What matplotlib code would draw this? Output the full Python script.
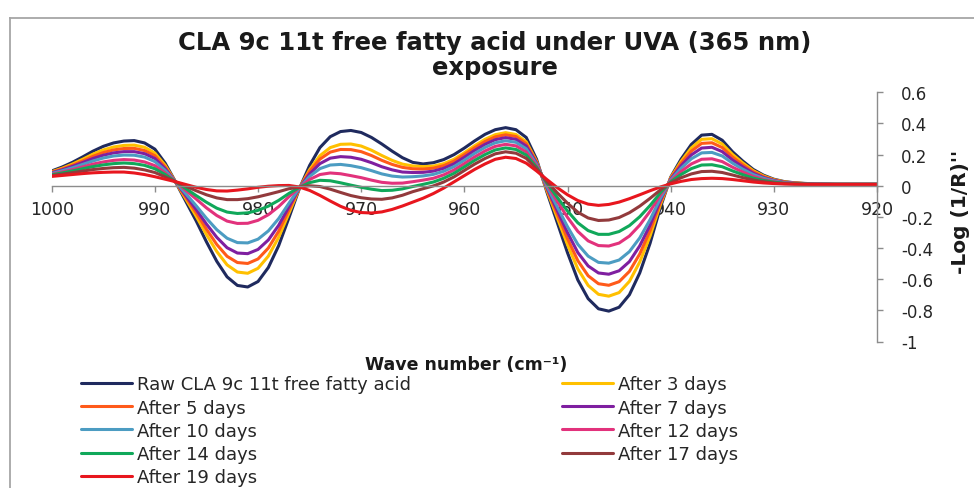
import matplotlib
matplotlib.use("Agg")
import matplotlib.pyplot as plt
from matplotlib.lines import Line2D

plt.rcParams['font.family'] = ['DejaVu Sans']
plt.rcParams['axes.unicode_minus'] = False

# ---------------- data ----------------
wavenumbers = list(range(1000, 919, -1))  # 1000 ... 920

raw = [0.095, 0.120, 0.150, 0.185, 0.222, 0.253, 0.275, 0.287, 0.290, 0.275,
       0.235, 0.145, 0.025, -0.100, -0.225, -0.360, -0.485, -0.585, -0.640, -0.650,
       -0.615, -0.525, -0.385, -0.205, -0.020, 0.130, 0.245, 0.315, 0.348, 0.355,
       0.342, 0.310, 0.268, 0.222, 0.180, 0.150, 0.140, 0.148, 0.168, 0.200,
       0.242, 0.288, 0.330, 0.360, 0.373, 0.360, 0.310, 0.170, -0.040, -0.235,
       -0.430, -0.605, -0.725, -0.790, -0.805, -0.780, -0.700, -0.560, -0.370, -0.140,
       0.055, 0.170, 0.265, 0.325, 0.330, 0.292, 0.218, 0.158, 0.105, 0.068,
       0.042, 0.027, 0.019, 0.015, 0.012, 0.011, 0.010, 0.010, 0.010, 0.010, 0.010]

day3 = [0.090, 0.112, 0.139, 0.170, 0.203, 0.230, 0.249, 0.259, 0.261, 0.247,
        0.210, 0.131, 0.025, -0.085, -0.195, -0.313, -0.422, -0.508, -0.554, -0.562,
        -0.530, -0.452, -0.331, -0.176, -0.018, 0.103, 0.193, 0.245, 0.266, 0.268,
        0.255, 0.228, 0.194, 0.163, 0.139, 0.127, 0.123, 0.126, 0.142, 0.170,
        0.212, 0.257, 0.298, 0.328, 0.341, 0.329, 0.282, 0.157, -0.029, -0.204,
        -0.378, -0.534, -0.640, -0.697, -0.709, -0.686, -0.614, -0.490, -0.323, -0.122,
        0.051, 0.156, 0.243, 0.298, 0.302, 0.268, 0.201, 0.146, 0.097, 0.063,
        0.039, 0.025, 0.018, 0.014, 0.012, 0.010, 0.009, 0.009, 0.009, 0.009, 0.009]

day5 = [0.087, 0.107, 0.131, 0.159, 0.189, 0.213, 0.230, 0.239, 0.240, 0.226,
        0.193, 0.120, 0.025, -0.074, -0.173, -0.279, -0.377, -0.453, -0.493, -0.499,
        -0.470, -0.400, -0.292, -0.155, -0.017, 0.092, 0.171, 0.216, 0.233, 0.232,
        0.219, 0.194, 0.163, 0.137, 0.118, 0.109, 0.107, 0.113, 0.129, 0.158,
        0.200, 0.244, 0.284, 0.314, 0.327, 0.316, 0.270, 0.152, -0.021, -0.181,
        -0.340, -0.481, -0.578, -0.629, -0.639, -0.616, -0.550, -0.438, -0.288, -0.108,
        0.047, 0.143, 0.222, 0.272, 0.276, 0.245, 0.184, 0.134, 0.090, 0.058,
        0.037, 0.024, 0.017, 0.014, 0.011, 0.010, 0.009, 0.009, 0.009, 0.009, 0.009]

day7 = [0.083, 0.102, 0.124, 0.149, 0.175, 0.196, 0.211, 0.219, 0.219, 0.206,
        0.175, 0.110, 0.025, -0.063, -0.152, -0.246, -0.331, -0.398, -0.432, -0.436,
        -0.409, -0.348, -0.254, -0.135, -0.016, 0.076, 0.142, 0.177, 0.187, 0.183,
        0.170, 0.148, 0.122, 0.102, 0.088, 0.085, 0.086, 0.094, 0.112, 0.141,
        0.183, 0.227, 0.266, 0.296, 0.309, 0.298, 0.255, 0.145, -0.012, -0.158,
        -0.301, -0.429, -0.515, -0.560, -0.568, -0.546, -0.487, -0.386, -0.253, -0.094,
        0.042, 0.128, 0.198, 0.242, 0.247, 0.219, 0.165, 0.121, 0.081, 0.053,
        0.034, 0.022, 0.016, 0.013, 0.011, 0.010, 0.009, 0.009, 0.009, 0.009, 0.009]

day10 = [0.079, 0.096, 0.115, 0.137, 0.159, 0.178, 0.191, 0.197, 0.196, 0.184,
         0.155, 0.099, 0.025, -0.051, -0.128, -0.209, -0.282, -0.337, -0.365, -0.367,
         -0.343, -0.290, -0.211, -0.112, -0.015, 0.060, 0.110, 0.133, 0.137, 0.129,
         0.116, 0.097, 0.076, 0.062, 0.056, 0.058, 0.063, 0.073, 0.093, 0.123,
         0.164, 0.208, 0.246, 0.276, 0.289, 0.279, 0.237, 0.137, -0.004, -0.135,
         -0.263, -0.376, -0.452, -0.492, -0.497, -0.477, -0.423, -0.335, -0.218, -0.081,
         0.037, 0.112, 0.173, 0.211, 0.214, 0.191, 0.145, 0.106, 0.072, 0.048,
         0.031, 0.020, 0.015, 0.013, 0.010, 0.010, 0.009, 0.009, 0.009, 0.009, 0.009]

day12 = [0.074, 0.088, 0.103, 0.121, 0.139, 0.153, 0.163, 0.168, 0.165, 0.153,
         0.129, 0.083, 0.026, -0.030, -0.085, -0.142, -0.191, -0.227, -0.242, -0.241,
         -0.222, -0.186, -0.134, -0.070, -0.012, 0.040, 0.072, 0.082, 0.077, 0.065,
         0.052, 0.036, 0.022, 0.016, 0.017, 0.026, 0.036, 0.048, 0.070, 0.101,
         0.142, 0.185, 0.223, 0.253, 0.266, 0.256, 0.217, 0.128, 0.009, -0.099,
         -0.203, -0.293, -0.354, -0.384, -0.387, -0.368, -0.323, -0.253, -0.164, -0.059,
         0.031, 0.091, 0.140, 0.170, 0.173, 0.155, 0.119, 0.088, 0.060, 0.040,
         0.026, 0.018, 0.014, 0.012, 0.010, 0.009, 0.009, 0.009, 0.009, 0.009, 0.009]

day14 = [0.070, 0.082, 0.095, 0.109, 0.123, 0.134, 0.142, 0.146, 0.142, 0.131,
         0.109, 0.072, 0.026, -0.018, -0.063, -0.106, -0.144, -0.169, -0.178, -0.174,
         -0.158, -0.131, -0.094, -0.049, -0.011, 0.020, 0.035, 0.032, 0.019, 0.004,
         -0.010, -0.022, -0.031, -0.029, -0.020, -0.005, 0.009, 0.024, 0.048, 0.080,
         0.121, 0.163, 0.200, 0.230, 0.243, 0.233, 0.197, 0.119, 0.018, -0.074,
         -0.162, -0.238, -0.288, -0.312, -0.312, -0.294, -0.256, -0.199, -0.127, -0.045,
         0.025, 0.072, 0.110, 0.133, 0.135, 0.122, 0.095, 0.071, 0.049, 0.034,
         0.023, 0.016, 0.013, 0.011, 0.009, 0.009, 0.009, 0.009, 0.009, 0.009, 0.009]

day17 = [0.065, 0.074, 0.084, 0.094, 0.104, 0.111, 0.116, 0.118, 0.113, 0.102,
         0.085, 0.057, 0.026, -0.003, -0.032, -0.058, -0.078, -0.089, -0.089, -0.083,
         -0.071, -0.055, -0.038, -0.019, -0.009, 0.000, -0.005, -0.022, -0.043, -0.063,
         -0.077, -0.085, -0.087, -0.078, -0.061, -0.038, -0.019, -0.001, 0.024, 0.057,
         0.098, 0.139, 0.175, 0.205, 0.218, 0.209, 0.176, 0.109, 0.028, -0.045,
         -0.112, -0.170, -0.207, -0.223, -0.220, -0.204, -0.173, -0.131, -0.081, -0.027,
         0.019, 0.051, 0.076, 0.091, 0.093, 0.085, 0.069, 0.052, 0.037, 0.026,
         0.018, 0.014, 0.011, 0.010, 0.009, 0.009, 0.009, 0.009, 0.009, 0.009, 0.009]

day19 = [0.060, 0.066, 0.072, 0.078, 0.083, 0.086, 0.088, 0.088, 0.082, 0.072,
         0.058, 0.042, 0.026, 0.008, -0.010, -0.024, -0.033, -0.034, -0.028, -0.020,
         -0.010, -0.003, 0.001, 0.002, -0.008, -0.030, -0.062, -0.098, -0.132, -0.158,
         -0.172, -0.175, -0.168, -0.152, -0.130, -0.105, -0.080, -0.050, -0.015, 0.025,
         0.065, 0.105, 0.140, 0.170, 0.183, 0.175, 0.145, 0.095, 0.040, -0.012,
         -0.058, -0.095, -0.118, -0.126, -0.120, -0.105, -0.083, -0.058, -0.032, -0.008,
         0.012, 0.028, 0.040, 0.046, 0.048, 0.046, 0.040, 0.032, 0.024, 0.018,
         0.014, 0.011, 0.010, 0.009, 0.008, 0.008, 0.008, 0.008, 0.008, 0.008, 0.008]

series_names = ["Raw CLA 9c 11t free fatty acid", "After 3 days", "After 5 days",
                "After 7 days", "After 10 days", "After 12 days", "After 14 days",
                "After 17 days", "After 19 days"]
series_values = [raw, day3, day5, day7, day10, day12, day14, day17, day19]
series_colors = ["#1F2A5E", "#FFC000", "#FF5A1A", "#7F1FA0", "#4C9CC2",
                 "#E2327C", "#10A85A", "#923A3C", "#E8161E"]

x_ticks = [1000, 990, 980, 970, 960, 950, 940, 930, 920]
x_tick_labels = ["1000", "990", "980", "970", "960", "950", "940", "930", "920"]
y_ticks = [0.6, 0.4, 0.2, 0, -0.2, -0.4, -0.6, -0.8, -1]
y_tick_labels = ["0.6", "0.4", "0.2", "0", "-0.2", "-0.4", "-0.6", "-0.8", "-1"]

title_text = "CLA 9c 11t free fatty acid under UVA (365 nm)\nexposure"
x_label = "Wave number (cm\u207b\u00b9)"
y_label = "-Log (1/R)''"

# ---------------- figure ----------------
W, H = 974, 489
fig = plt.figure(figsize=(W / 100, H / 100), dpi=100)
fig.patch.set_facecolor("white")

x0, x1 = 51.7, 877.0
y_top, y_bot = 93.3, 342.5
ax = fig.add_axes([x0 / W, 1 - y_bot / H, (x1 - x0) / W, (y_bot - y_top) / H])
ax.set_facecolor("none")

handles = []
for name, vals, col in zip(series_names, series_values, series_colors):
    h, = ax.plot(wavenumbers, vals, color=col, lw=2.2, label=name,
                 solid_joinstyle="round", solid_capstyle="round")
    handles.append(h)

ax.set_xlim(1000, 920)
ax.set_ylim(-1, 0.6)

grey = "#8C8C8C"
for s in ["left", "top"]:
    ax.spines[s].set_visible(False)
ax.spines["right"].set_color(grey)
ax.spines["right"].set_linewidth(1.0)
ax.spines["bottom"].set_position(("data", 0))
ax.spines["bottom"].set_color(grey)
ax.spines["bottom"].set_linewidth(1.0)

ax.set_xticks(x_ticks)
ax.set_xticklabels(x_tick_labels)
ax.set_yticks(y_ticks)
ax.set_yticklabels(y_tick_labels)
ax.yaxis.tick_right()
ax.tick_params(axis="x", direction="out", length=4, width=1, color=grey,
               labelsize=12.5, pad=6, labelcolor="#262626")
ax.tick_params(axis="y", direction="out", length=4, width=1, color=grey,
               labelsize=12, pad=13.5, labelcolor="#262626",
               right=True, left=False, labelright=True, labelleft=False)

# titles / labels
fig.text(495 / W, 1 - 55.5 / H, title_text, ha="center", va="center",
         fontsize=17.5, fontweight="bold", color="#1a1a1a", linespacing=1.08)
fig.text(466 / W, 1 - 365 / H, x_label, ha="center", va="center",
         fontsize=12.5, fontweight="bold", color="#1a1a1a")
fig.text(961 / W, 1 - 212 / H, y_label, ha="center", va="center", rotation=90,
         fontsize=14.5, fontweight="bold", color="#1a1a1a")

# legend: Excel fills row by row -> two explicit columns
left_col = [0, 2, 4, 6, 8]
right_col = [1, 3, 5, 7]
common = dict(frameon=False, fontsize=13, handlelength=2.8, handletextpad=0.3,
              labelspacing=0.285, borderpad=0, borderaxespad=0,
              loc="upper left", labelcolor="#262626")
leg1 = fig.legend([handles[i] for i in left_col], [series_names[i] for i in left_col],
                  bbox_to_anchor=(81 / W, 1 - 376.5 / H), **common)
leg2 = fig.legend([handles[i] for i in right_col], [series_names[i] for i in right_col],
                  bbox_to_anchor=(562 / W, 1 - 376.5 / H), **common)

# chart-area border (left and top edges visible)
fig.add_artist(Line2D([10 / W, 10 / W], [0, 1 - 19 / H], transform=fig.transFigure,
                      color="#A6A6A6", lw=1.3))
fig.add_artist(Line2D([10 / W, 1], [1 - 19 / H, 1 - 19 / H], transform=fig.transFigure,
                      color="#A6A6A6", lw=1.3))

fig.savefig("out.png", dpi=100, facecolor="white")
